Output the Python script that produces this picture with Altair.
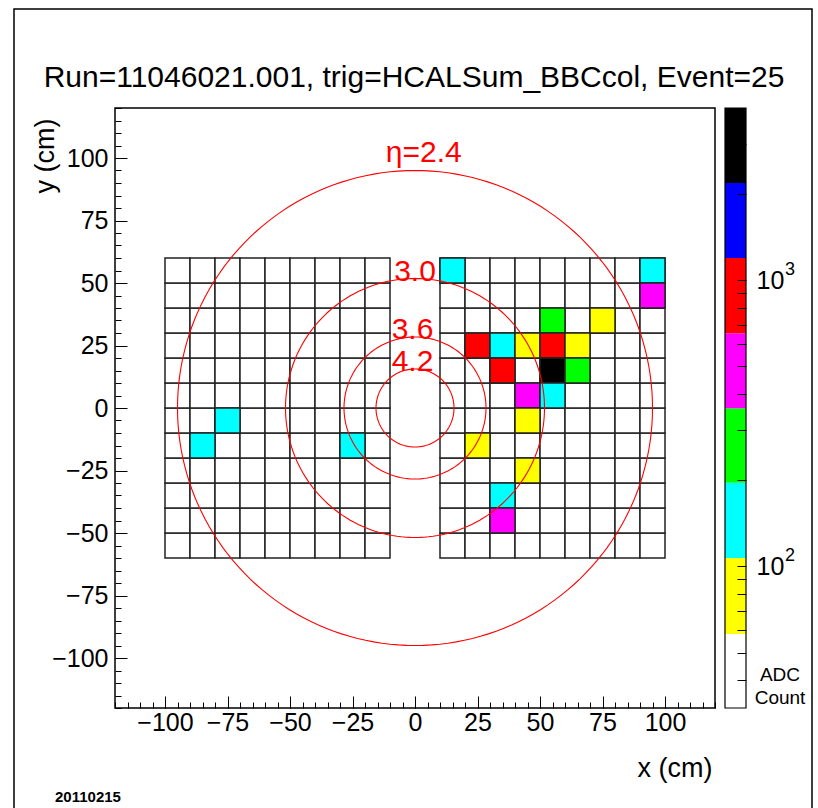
import altair as alt
import pandas as pd
import numpy as np

FONT = "Liberation Sans"

# ---------------- data ----------------
col_left_edges = [-100, -90, -80, -70, -60, -50, -40, -30, -20]
col_right_edges = [10, 20, 30, 40, 50, 60, 70, 80, 90]
row_edges = [-60, -50, -40, -30, -20, -10, 0, 10, 20, 30, 40, 50]
cell_size = 10

# hit cells (cell centres, cm) and ADC counts
hit_x = [-75, -85, -25, 15, 95, 95, 55, 75, 25, 35, 45, 55, 65, 35, 55, 65, 45, 55, 45, 25, 45, 35, 35]
hit_y = [-5, -15, -15, 55, 55, 45, 35, 35, 25, 25, 25, 25, 25, 15, 15, 15, 5, 5, -5, -15, -25, -35, -45]
hit_adc = [150, 150, 150, 150, 150, 480, 270, 80, 900, 150, 80, 900, 80, 900, 3000, 270, 480, 150, 80, 80, 80, 150, 480]

# pseudorapidity rings
eta_labels = ["η=2.4", "3.0", "3.6", "4.2"]
eta_radius = [95.0, 51.8, 28.4, 15.6]
eta_label_x = [3.5, 0.0, -1.0, -1.0]
eta_label_y = [98.5, 50.8, 27.6, 14.8]

# colour palette (log z)
band_edges = [32, 58, 107, 196, 357, 653, 1196, 2188, 4000]
band_colors = ["#ffffff", "#ffff00", "#00ffff", "#00ff00", "#ff00ff",
               "#ff0000", "#0000ff", "#000000"]
cbar_ticks = [40, 50, 60, 70, 80, 90, 100, 200, 300, 400, 500, 600, 700,
              800, 900, 1000, 2000, 3000]
cbar_decades = [100, 1000]
cbar_exponents = ["2", "3"]

axis_major = [-100, -75, -50, -25, 0, 25, 50, 75, 100]
axis_minor = list(range(-120, 121, 5))

title_text = "Run=11046021.001, trig=HCALSum_BBCcol, Event=25"
date_text = "20110215"

# ---------------- tables ----------------
grid_rows = []
for x0 in col_left_edges + col_right_edges:
    for y0 in row_edges:
        grid_rows.append({"x0": x0, "x1": x0 + cell_size, "y0": y0, "y1": y0 + cell_size})
grid_df = pd.DataFrame(grid_rows)

hit_df = pd.DataFrame({"x": hit_x, "y": hit_y, "adc": hit_adc})
hit_df["x0"] = hit_df["x"] - cell_size / 2
hit_df["x1"] = hit_df["x"] + cell_size / 2
hit_df["y0"] = hit_df["y"] - cell_size / 2
hit_df["y1"] = hit_df["y"] + cell_size / 2

ang = np.deg2rad(np.arange(0, 361, 2))
circ_rows = []
for lab, r in zip(eta_labels, eta_radius):
    for i, a in enumerate(ang):
        circ_rows.append({"ring": lab, "i": i, "cx": r * np.cos(a), "cy": r * np.sin(a)})
circ_df = pd.DataFrame(circ_rows)

lab_df = pd.DataFrame({"label": eta_labels, "lx": eta_label_x, "ly": eta_label_y})

band_df = pd.DataFrame({"lo": band_edges[:-1], "hi": band_edges[1:], "color": band_colors})
outline_df = pd.DataFrame({"lo": [band_edges[0]], "hi": [band_edges[-1]]})
sup_df = pd.DataFrame({"v": cbar_decades, "e": cbar_exponents})

one = pd.DataFrame({"a": [0]})

# ---------------- scales & axes ----------------
xs = alt.Scale(domain=[-120, 120], nice=False, zero=False)
ys = alt.Scale(domain=[-120, 120], nice=False, zero=False)

common_axis = dict(domain=False, grid=False, tickColor="black", tickWidth=1,
                   labelFont=FONT, labelColor="black", labelFontSize=25,
                   labelOverlap=False, labelFlush=False, zindex=1,
                   titleFont=FONT, titleFontSize=27, titleFontWeight="normal",
                   titleColor="black")

x_major_axis = alt.Axis(orient="bottom", values=axis_major, offset=-12, tickSize=12,
                        labelPadding=2, title="x (cm)", titleX=597, titleY=72,
                        titleAlign="right", titleBaseline="middle", **common_axis)
y_major_axis = alt.Axis(orient="left", values=axis_major, offset=-12, tickSize=12,
                        labelPadding=7, title="y (cm)", titleX=-82, titleY=10,
                        titleAngle=-90, titleAlign="right", titleBaseline="middle",
                        **common_axis)
x_minor_axis = alt.Axis(orient="bottom", values=axis_minor, offset=-6, tickSize=6,
                        labels=False, title=None, domain=False, grid=False,
                        tickColor="black", tickWidth=1, zindex=1)
y_minor_axis = alt.Axis(orient="left", values=axis_minor, offset=-6, tickSize=6,
                        labels=False, title=None, domain=False, grid=False,
                        tickColor="black", tickWidth=1, zindex=1)

# ---------------- layers ----------------
grid = alt.Chart(grid_df).mark_rect(fill="white", stroke="#222222", strokeWidth=1.5).encode(
    x=alt.X("x0:Q", scale=xs, axis=x_major_axis), x2="x1:Q",
    y=alt.Y("y0:Q", scale=ys, axis=y_major_axis), y2="y1:Q")

hits = alt.Chart(hit_df).mark_rect(stroke="#222222", strokeWidth=1.5).encode(
    x=alt.X("x0:Q", scale=xs, axis=None), x2="x1:Q",
    y=alt.Y("y0:Q", scale=ys, axis=None), y2="y1:Q",
    fill=alt.Fill("adc:Q", scale=alt.Scale(type="threshold", domain=band_edges[1:-1],
                                           range=band_colors), legend=None))

rings = alt.Chart(circ_df).mark_line(color="#ff0000", strokeWidth=1.1).encode(
    x=alt.X("cx:Q", scale=xs, axis=x_minor_axis),
    y=alt.Y("cy:Q", scale=ys, axis=y_minor_axis),
    detail="ring:N", order="i:Q")

ring_labels = alt.Chart(lab_df).mark_text(color="#ff0000", font=FONT, fontSize=30,
                                          baseline="alphabetic", align="center").encode(
    x=alt.X("lx:Q", scale=xs, axis=None), y=alt.Y("ly:Q", scale=ys, axis=None),
    text="label:N")

title = alt.Chart(pd.DataFrame({"t": [title_text]})).mark_text(
    font=FONT, fontSize=30, color="black", align="center", baseline="middle").encode(
    x=alt.value(299), y=alt.value(-30), text="t:N")

date = alt.Chart(pd.DataFrame({"t": [date_text]})).mark_text(
    font=FONT, fontSize=15, fontWeight="bold", color="black", align="left",
    baseline="middle").encode(x=alt.value(-60), y=alt.value(689), text="t:N")

adc = alt.Chart(pd.DataFrame({"t": ["ADC", "Count"], "yy": [567, 590]})).mark_text(
    font=FONT, fontSize=19, color="black", align="center", baseline="middle").encode(
    x=alt.value(665), y=alt.Y("yy:Q", scale=None), text="t:N")

frame = alt.Chart(one).mark_rect(filled=False, stroke="black", strokeWidth=1.5).encode(
    x=alt.value(-101), x2=alt.value(697), y=alt.value(-99), y2=alt.value(730))

main = alt.layer(frame, grid, hits, rings, ring_labels, title, date, adc).resolve_axis(
    x="independent", y="independent")

cscale = alt.Scale(type="log", domain=[band_edges[0], band_edges[-1]], nice=False)
cbar_axis = alt.Axis(orient="right", values=cbar_ticks, offset=22, tickSize=9,
                     domain=False, grid=False, tickColor="black", tickWidth=1,
                     labelExpr="datum.value == 100 || datum.value == 1000 ? '10' : ''",
                     labelFont=FONT, labelFontSize=25, labelColor="black",
                     labelPadding=10, labelOverlap=False, labelFlush=False,
                     title=None, zindex=1)

cbar = alt.Chart(band_df).mark_rect().encode(
    x=alt.value(610), x2=alt.value(631),
    y=alt.Y("lo:Q", scale=cscale, axis=cbar_axis), y2="hi:Q",
    fill=alt.Fill("color:N", scale=None))

cbar_outline = alt.Chart(outline_df).mark_rect(filled=False, stroke="black",
                                               strokeWidth=1.2).encode(
    x=alt.value(610), x2=alt.value(631),
    y=alt.Y("lo:Q", scale=cscale, axis=None), y2="hi:Q")

cbar_sup = alt.Chart(sup_df).mark_text(font=FONT, fontSize=18, color="black",
                                       align="left", baseline="middle", dy=-10).encode(
    x=alt.value(670), y=alt.Y("v:Q", scale=cscale, axis=None), text="e:N")

chart = alt.layer(main, cbar, cbar_outline, cbar_sup).resolve_scale(y="independent").properties(
    width=600, height=600,
    padding={"left": 115, "top": 108, "right": 103, "bottom": 100},
    autosize=alt.AutoSizeParams(type="none"),
    background="white",
).configure_view(stroke="black", strokeWidth=1.5)

chart.save("out.html", embed_options={"renderer": "svg", "actions": False})
